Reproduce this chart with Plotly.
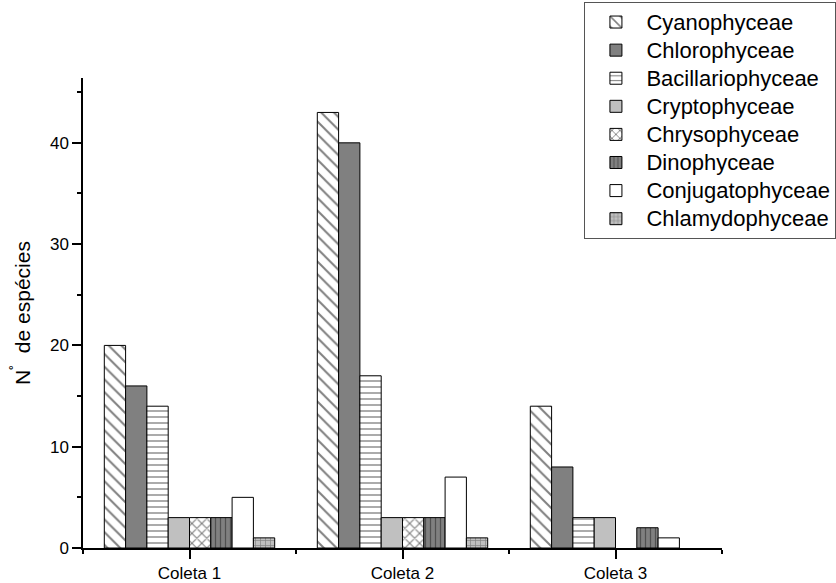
import plotly.graph_objects as go

groups = ["Coleta 1", "Coleta 2", "Coleta 3"]
group_pos = [0, 1, 2]
classes = ["Cyanophyceae", "Chlorophyceae", "Bacillariophyceae", "Cryptophyceae",
           "Chrysophyceae", "Dinophyceae", "Conjugatophyceae", "Chlamydophyceae"]
cyano = [20, 43, 14]
chloro = [16, 40, 8]
bacil = [14, 17, 3]
crypto = [3, 3, 3]
chryso = [3, 3, 0]
dino = [3, 3, 2]
conj = [5, 7, 1]
chlamy = [1, 1, 0]
values = [cyano, chloro, bacil, crypto, chryso, dino, conj, chlamy]
y_ticks = [0, 10, 20, 30, 40]

styles = [
    dict(color="white", shape="\\", fg="black", size=9, sol=0.22),
    dict(color="#808080", shape="", fg="black", size=8, sol=0.2),
    dict(color="white", shape="-", fg="black", size=6, sol=0.22),
    dict(color="#c0c0c0", shape="", fg="black", size=8, sol=0.2),
    dict(color="white", shape="x", fg="black", size=7, sol=0.3),
    dict(color="#808080", shape="|", fg="#202020", size=5, sol=0.25),
    dict(color="white", shape="", fg="black", size=8, sol=0.2),
    dict(color="#c0c0c0", shape="+", fg="#404040", size=5, sol=0.25),
]

font = "Arial, Liberation Sans, sans-serif"
fig = go.Figure()
for name, vals, st in zip(classes, values, styles):
    fig.add_trace(go.Bar(
        x=group_pos, y=[v if v else None for v in vals],
        name=f'<span style="font-size:22px">{name}</span>',
        marker=dict(color=st["color"], line=dict(color="black", width=1),
                    pattern=dict(shape=st["shape"], fgcolor=st["fg"], size=st["size"],
                                 solidity=st["sol"], fillmode="overlay")),
    ))

fig.update_layout(
    width=836, height=583,
    margin=dict(l=83, r=114, t=78, b=35, autoexpand=False),
    paper_bgcolor="white", plot_bgcolor="white",
    barmode="group", bargap=0.2, bargroupgap=0,
    font=dict(family=font, color="black"),
    legend=dict(x=0.7847, y=1.1617, xanchor="left", yanchor="top",
                bordercolor="#555555", borderwidth=1, bgcolor="white",
                font=dict(size=19.3, family=font), itemwidth=51,
                tracegroupgap=0),
    xaxis=dict(range=[-0.5, 2.5], tickvals=group_pos, ticktext=groups,
               showline=True, linecolor="black", linewidth=1.5,
               ticks="outside", ticklen=9, tickwidth=1.5, tickcolor="black",
               tickfont=dict(size=17), showgrid=False, zeroline=False,
               minor=dict(tickvals=[-0.5, 0.5, 1.5, 2.5], ticks="outside", ticklen=4,
                          tickwidth=1.5, tickcolor="black")),
    yaxis=dict(range=[0, 46.4], tickvals=y_ticks,
               showline=True, linecolor="black", linewidth=1.5,
               ticks="outside", ticklen=9, tickwidth=1.5, tickcolor="black",
               tickfont=dict(size=17), showgrid=False, zeroline=False,
               title=dict(text="N<sup>˚</sup>  de espécies", font=dict(size=21), standoff=14),
               minor=dict(dtick=5, tick0=5, ticks="outside", ticklen=4,
                          tickwidth=1.5, tickcolor="black")),
)

fig.write_html("out.html", config={"displayModeBar": False},
               post_script="document.body.style.margin='0';")
